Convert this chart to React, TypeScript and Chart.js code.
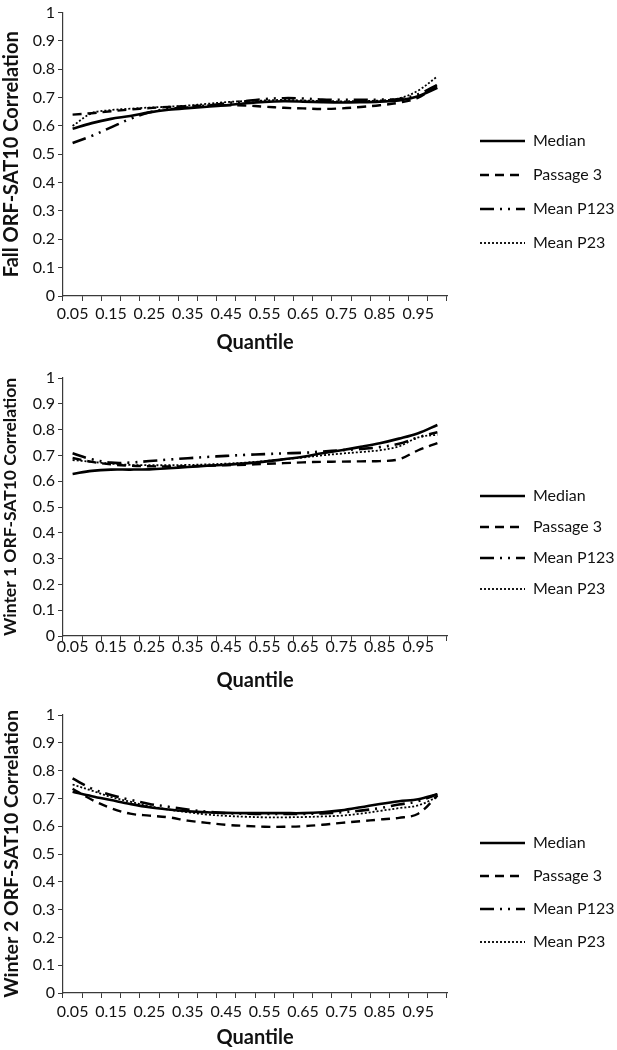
import React, { useEffect, useRef } from 'react';
import { Chart, registerables } from 'chart.js';

Chart.register(...registerables);

// ---------- data ----------
const quantiles = ['0.05', '0.1', '0.15', '0.2', '0.25', '0.3', '0.35', '0.4', '0.45', '0.5', '0.55', '0.6', '0.65', '0.7', '0.75', '0.8', '0.85', '0.9', '0.95', '0.99'];
const seriesNames = ['Median', 'Passage 3', 'Mean P123', 'Mean P23'];

const fallMedian = [0.59, 0.61, 0.625, 0.635, 0.648, 0.657, 0.663, 0.668, 0.673, 0.68, 0.685, 0.687, 0.686, 0.684, 0.683, 0.684, 0.686, 0.69, 0.705, 0.735];
const fallPassage3 = [0.64, 0.645, 0.652, 0.658, 0.663, 0.667, 0.67, 0.672, 0.673, 0.672, 0.668, 0.664, 0.662, 0.66, 0.662, 0.667, 0.673, 0.682, 0.7, 0.745];
const fallMeanP123 = [0.54, 0.565, 0.595, 0.625, 0.648, 0.66, 0.665, 0.672, 0.68, 0.688, 0.695, 0.698, 0.697, 0.693, 0.692, 0.692, 0.693, 0.695, 0.712, 0.745];
const fallMeanP23 = [0.6, 0.645, 0.656, 0.661, 0.665, 0.668, 0.672, 0.678, 0.684, 0.688, 0.69, 0.692, 0.69, 0.688, 0.687, 0.688, 0.69, 0.697, 0.725, 0.775];

const w1Median = [0.628, 0.64, 0.645, 0.645, 0.646, 0.65, 0.655, 0.66, 0.664, 0.669, 0.676, 0.685, 0.695, 0.708, 0.72, 0.733, 0.747, 0.765, 0.786, 0.818];
const w1Passage3 = [0.69, 0.675, 0.665, 0.66, 0.658, 0.657, 0.658, 0.66, 0.662, 0.664, 0.667, 0.67, 0.673, 0.675, 0.676, 0.677, 0.678, 0.685, 0.72, 0.748];
const w1MeanP123 = [0.708, 0.685, 0.672, 0.672, 0.678, 0.684, 0.689, 0.694, 0.698, 0.702, 0.705, 0.708, 0.71, 0.715, 0.72, 0.725, 0.732, 0.745, 0.77, 0.79];
const w1MeanP23 = [0.682, 0.675, 0.668, 0.663, 0.662, 0.662, 0.663, 0.665, 0.668, 0.672, 0.678, 0.685, 0.692, 0.7, 0.707, 0.713, 0.72, 0.735, 0.77, 0.78];

const w2Median = [0.724, 0.708, 0.694, 0.68, 0.668, 0.66, 0.654, 0.65, 0.648, 0.647, 0.647, 0.647, 0.647, 0.65, 0.657, 0.668, 0.68, 0.69, 0.697, 0.715];
const w2Passage3 = [0.735, 0.695, 0.665, 0.645, 0.638, 0.632, 0.62, 0.612, 0.605, 0.601, 0.598, 0.598, 0.6, 0.605, 0.612, 0.618, 0.624, 0.63, 0.645, 0.71];
const w2MeanP123 = [0.772, 0.735, 0.712, 0.695, 0.68, 0.67, 0.66, 0.652, 0.647, 0.645, 0.644, 0.644, 0.644, 0.646, 0.65, 0.656, 0.665, 0.678, 0.69, 0.715];
const w2MeanP23 = [0.75, 0.728, 0.705, 0.688, 0.672, 0.66, 0.65, 0.642, 0.637, 0.634, 0.632, 0.632, 0.633, 0.635, 0.638, 0.645, 0.655, 0.665, 0.675, 0.705];

const yTitles = ['Fall ORF-SAT10 Correlation', 'Winter 1 ORF-SAT10 Correlation', 'Winter 2 ORF-SAT10 Correlation'];
const xTitle = 'Quantile';

// ---------- styles ----------
const lineWidths = [2.6, 2.4, 2.6, 1.8];
const lineDashes: number[][] = [[], [9, 6], [14, 6, 2, 6, 2, 6], [2, 2]];
const AXIS = '#3a3a3a';
const TEXT = '#111';
const FONT = 'Lato, "Open Sans", sans-serif';

type Layout = {
  top: number; height: number; padTop: number; xAxisH: number; xTickPad: number;
  xTitlePadB: number; yTitleSize: number; legendPad: number; legendTitleH: number; legendLeft: number;
};

const layouts: Layout[] = [
  { top: 0, height: 358, padTop: 10, xAxisH: 62, xTickPad: 3, xTitlePadB: 3, yTitleSize: 20, legendPad: 18, legendTitleH: 105, legendLeft: 462 },
  { top: 360, height: 336, padTop: 18, xAxisH: 60, xTickPad: -4, xTitlePadB: 3, yTitleSize: 17.5, legendPad: 15, legendTitleH: 95, legendLeft: 465 },
  { top: 700, height: 350, padTop: 15, xAxisH: 57, xTickPad: 4, xTitlePadB: 0, yTitleSize: 19.5, legendPad: 17, legendTitleH: 103, legendLeft: 463 },
];

const panelSeries = [
  [fallMedian, fallPassage3, fallMeanP123, fallMeanP23],
  [w1Median, w1Passage3, w1MeanP123, w1MeanP23],
  [w2Median, w2Passage3, w2MeanP123, w2MeanP23],
];

const WIDTH = 617;
const PLOT_LEFT = 63;
const PLOT_RIGHT = 447;

function Panel({ idx }: { idx: number }) {
  const ref = useRef<HTMLCanvasElement | null>(null);
  useEffect(() => {
    const canvas = ref.current;
    if (!canvas) return;
    const L = layouts[idx];
    const series = panelSeries[idx];
    const defaultLabels = (Chart.defaults as any).plugins.legend.labels.generateLabels;
    const chart = new Chart(canvas, {
      type: 'line',
      data: {
        labels: quantiles,
        datasets: seriesNames.map((name, i) => ({
          label: name,
          data: series[i],
          borderColor: '#000',
          backgroundColor: '#000',
          borderWidth: lineWidths[i],
          borderDash: lineDashes[i],
          pointRadius: 0,
          pointHoverRadius: 0,
          tension: 0.35,
          fill: false,
          yAxisID: 'y',
        })),
      },
      options: {
        responsive: false,
        animation: false,
        events: [],
        layout: { padding: { top: L.padTop, left: 0, right: 0, bottom: 0 } },
        plugins: {
          tooltip: { enabled: false },
          legend: {
            position: 'right',
            align: 'start',
            maxWidth: WIDTH - L.legendLeft,
            title: {
              display: true,
              text: ' ',
              font: { size: 10 },
              padding: { top: L.legendTitleH - 12, bottom: 0 },
            },
            labels: {
              usePointStyle: true,
              pointStyle: 'line',
              pointStyleWidth: 45,
              padding: L.legendPad,
              color: TEXT,
              font: { family: FONT, size: 16 },
              generateLabels: (c: any) =>
                defaultLabels(c).map((it: any, i: number) => ({
                  ...it,
                  pointStyle: 'line',
                  strokeStyle: '#000',
                  fillStyle: '#000',
                  lineWidth: lineWidths[i],
                  lineDash: lineDashes[i],
                  lineCap: 'butt',
                })),
            },
          },
        },
        scales: {
          x: {
            type: 'category',
            offset: true,
            grid: { display: true, offset: true, drawOnChartArea: false, drawTicks: true, tickLength: 5, color: AXIS, lineWidth: 1 },
            border: { display: true, color: AXIS, width: 1.2 },
            ticks: {
              autoSkip: false,
              maxRotation: 0,
              minRotation: 0,
              padding: L.xTickPad,
              color: TEXT,
              font: { family: FONT, size: 16 },
              callback: (_v: any, i: number) => (i % 2 === 0 && i < quantiles.length - 1 ? quantiles[i] : ''),
            },
            title: {
              display: true,
              text: xTitle,
              color: TEXT,
              font: { family: FONT, size: 20, weight: 'bold' },
              padding: { top: 0, bottom: L.xTitlePadB },
            },
            afterFit: (s: any) => { s.height = L.xAxisH; },
          },
          y: {
            type: 'linear',
            position: 'left',
            min: 0,
            max: 1,
            grid: { display: true, drawOnChartArea: false, drawTicks: true, tickLength: 5, color: AXIS, lineWidth: 1 },
            border: { display: true, color: AXIS, width: 1.2 },
            ticks: {
              stepSize: 0.1,
              padding: 3,
              color: TEXT,
              font: { family: FONT, size: 16 },
              callback: (v: any) => String(Number(Number(v).toFixed(1))),
            },
            title: {
              display: true,
              text: yTitles[idx],
              color: TEXT,
              font: { family: FONT, size: L.yTitleSize, weight: 'bold' },
              padding: { top: 0, bottom: 0 },
            },
            afterFit: (s: any) => { s.width = PLOT_LEFT; },
          },
          yPad: {
            type: 'linear',
            position: 'right',
            display: true,
            grid: { display: false },
            border: { display: false },
            ticks: { display: false },
            afterFit: (s: any) => { s.width = L.legendLeft - PLOT_RIGHT; },
          },
        },
      } as any,
    });
    return () => chart.destroy();
  }, [idx]);
  const L = layouts[idx];
  return (
    <canvas
      ref={ref}
      width={WIDTH}
      height={L.height}
      style={{ position: 'absolute', left: 0, top: L.top, width: WIDTH, height: L.height }}
    />
  );
}

export default function App() {
  return (
    <div style={{ position: 'absolute', left: 0, top: 0, width: WIDTH, height: 1050, background: '#fff', overflow: 'hidden' }}>
      <Panel idx={0} />
      <Panel idx={1} />
      <Panel idx={2} />
    </div>
  );
}
